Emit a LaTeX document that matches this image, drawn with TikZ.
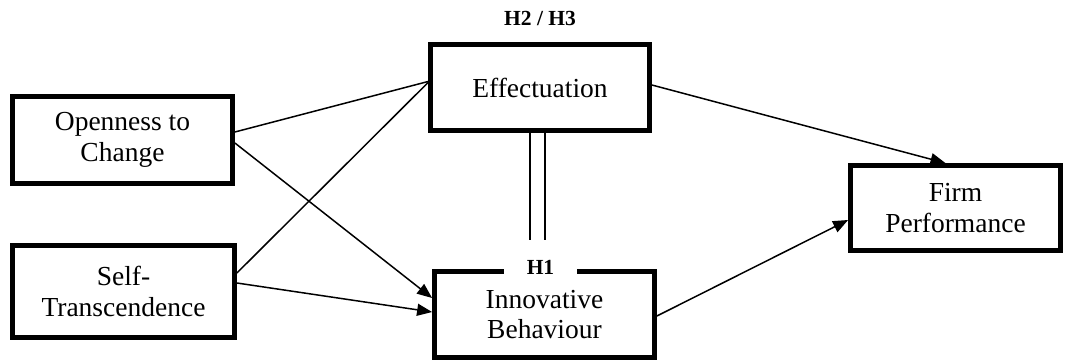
\documentclass[tikz,border=0pt]{standalone}
\usepackage{fontspec}
\setmainfont{Liberation Serif}
\usetikzlibrary{arrows.meta}
\begin{document}
\begin{tikzpicture}[x=1pt,y=-1pt,
  box/.style={draw, line width=4.8pt, align=center, inner sep=0pt,
    font=\fontsize{27.5}{30.5}\selectfont},
  lnk/.style={line width=1.5pt},
  arr/.style={lnk, -{Triangle[length=15pt,width=12pt]}},
  hlab/.style={font=\fontsize{21.5}{24}\selectfont\bfseries}]
\useasboundingbox (0,0) rectangle (1067,363);
% boxes
\node[box, minimum width=220pt, minimum height=87pt] (open) at (122.5,140) {Openness to\\Change};
\node[box, minimum width=222pt, minimum height=92pt] (self) at (123.5,291.5) {Self-\\Transcendence};
\node[box, minimum width=219pt, minimum height=86pt] (eff) at (540,87.5) {Effectuation};
\node[box, minimum width=220pt, minimum height=86pt] (inno) at (544.5,314.5) {Innovative\\Behaviour};
\node[box, minimum width=210pt, minimum height=85pt] (firm) at (955.5,208) {Firm\\Performance};
% labels
\node[hlab] (h23) at (540,18) {H2 / H3};
\node[hlab, fill=white, inner xsep=23pt, inner ysep=3pt] (h1) at (540.5,267) {H1};
% connectors
\draw[lnk] ([yshift=8pt]open.east) -- ([yshift=6pt]eff.west);
\draw[arr] ([yshift=-3pt]open.east) -- ([yshift=16.5pt]inno.west);
\draw[lnk] ([yshift=18.5pt]self.east) -- ([yshift=5pt]eff.west);
\draw[arr] ([yshift=8.5pt]self.east) -- ([yshift=2.5pt]inno.west);
\draw[arr] ([yshift=2.5pt]eff.east) -- ([xshift=-10pt]firm.north);
\draw[arr] ([yshift=-1.5pt]inno.east) -- ([yshift=-12pt]firm.west);
% double link
\coordinate (dl) at (537.5,240);
\draw[line width=1.5pt, double, double distance=13.5pt] ([xshift=-2.5pt]eff.south) -- (dl);
\end{tikzpicture}
\end{document}
